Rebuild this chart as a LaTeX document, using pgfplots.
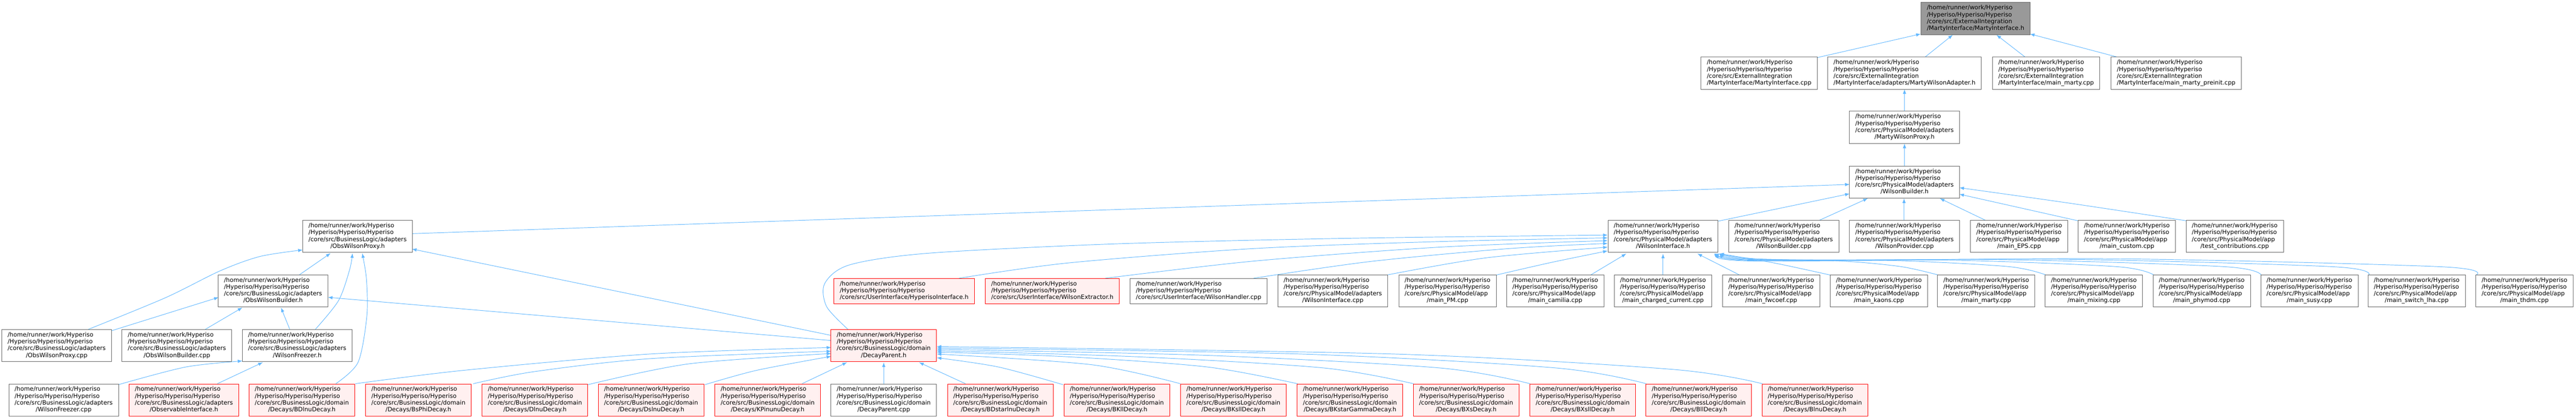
\documentclass[border=0pt]{standalone}
\usepackage{pgfplots}
\pgfplotsset{compat=1.18}
\usepackage{fontspec}
\setmainfont{DejaVu Sans}
\usetikzlibrary{arrows.meta}
\definecolor{edgeblue}{HTML}{63B8FF}
\definecolor{redfill}{HTML}{FFF0F0}
\definecolor{rootfill}{HTML}{999999}
\definecolor{boxline}{HTML}{666666}
\NewDocumentCommand{\bx}{mm}{\begin{tabular}{@{}l@{}}/home/runner/work/Hyperiso\\/Hyperiso/Hyperiso/Hyperiso\\#1\\\multicolumn{1}{@{}c@{}}{#2}\end{tabular}}
\NewDocumentCommand{\bxt}{m}{\begin{tabular}{@{}l@{}}/home/runner/work/Hyperiso\\/Hyperiso/Hyperiso/Hyperiso\\#1\end{tabular}}
\NewDocumentCommand{\BLa}{}{/core/src/BusinessLogic/adapters}
\NewDocumentCommand{\BLd}{}{/core/src/BusinessLogic/domain}
\NewDocumentCommand{\PMa}{}{/core/src/PhysicalModel/adapters}
\NewDocumentCommand{\PMp}{}{/core/src/PhysicalModel/app}
\NewDocumentCommand{\EI}{}{/core/src/ExternalIntegration}
\pgfplotsset{
  edge/.style={color=edgeblue, line width=0.8pt, smooth, mark=none, -{Latex[length=7.5pt,width=5.5pt]}},
  boxes/.style={draw=none, mark=none, point meta=explicit symbolic,
    nodes near coords={\pgfplotspointmeta}, nodes near coords align=center,
    every node near coord/.append style={anchor=center, text=black, inner xsep=9.4pt, inner ysep=3.9pt,
      font=\fontsize{9.64}{11}\selectfont, line width=0.75pt, #1}},
}
\begin{document}
\begin{tikzpicture}
\begin{axis}[name=ax, x=0.75pt, y=0.75pt, xmin=0, xmax=5547, ymin=0, ymax=901, y dir=reverse,
  hide axis, clip=false]
% ---- edges (child -> included file) ----
\addplot[edge] coordinates {(3913,124) (4136,73)};
\addplot[edge] coordinates {(4145,123) (4205,75)};
\addplot[edge] coordinates {(4361,123) (4299,75)};
\addplot[edge] coordinates {(4560,123) (4371,73)};
\addplot[edge] coordinates {(4101,239) (4101,192)};
\addplot[edge] coordinates {(4101,357) (4101,309)};
\addplot[edge] coordinates {(3700,476) (3983,417)};
\addplot[edge] coordinates {(3918,474) (4022,427)};
\addplot[edge] coordinates {(4100,474) (4100,427)};
\addplot[edge] coordinates {(4275,474) (4177,427)};
\addplot[edge] coordinates {(4478,476) (4219,418)};
\addplot[edge] coordinates {(4713,476) (4454,437) (4219,404)};
\addplot[edge] coordinates {(887,503) (3983,397)};
% row 6 -> WilsonInterface.h
\addplot[edge] coordinates {(2065,599) (2300,566) (2700,535) (3100,520) (3462,512)};
\addplot[edge] coordinates {(2380,599) (2700,562) (3100,532) (3462,518)};
\addplot[edge] coordinates {(2699,599) (2950,563) (3250,535) (3462,524)};
\addplot[edge] coordinates {(2986,592) (3200,555) (3462,532)};
\addplot[edge] coordinates {(3222,592) (3340,565) (3462,540)};
\addplot[edge] coordinates {(3425,592) (3502,546)};
\addplot[edge] coordinates {(3581,592) (3581,546)};
\addplot[edge] coordinates {(3746,592) (3655,546)};
\addplot[edge] coordinates {(3941,592) (3820,566) (3702,546)};
\addplot[edge] coordinates {(4174,592) (4094,574) (3967,562) (3780,557) (3702,546)};
\addplot[edge] coordinates {(4406,592) (4326,574) (4083,561) (3780,558) (3702,546)};
\addplot[edge] coordinates {(4638,592) (4558,574) (4199,560) (3780,559) (3702,546)};
\addplot[edge] coordinates {(4869,592) (4789,574) (4315,559) (3780,560) (3702,546)};
\addplot[edge] coordinates {(5101,592) (5021,574) (4430,558) (3780,561) (3702,546)};
\addplot[edge] coordinates {(5332,592) (5252,574) (4546,557) (3780,562) (3702,546)};
\addplot[edge] coordinates {(1826,709) (1780,660) (1776,610) (1830,570) (2000,545) (2400,525) (2900,513) (3462,506)};
% ObsWilsonProxy.h
\addplot[edge] coordinates {(190,709) (356,641) (474,583) (560,552) (652,538)};
\addplot[edge] coordinates {(644,592) (712,545)};
\addplot[edge] coordinates {(679,709) (729,647) (753,580) (759,545)};
\addplot[edge] coordinates {(723,826) (771,780) (790,680) (789,600) (780,545)};
\addplot[edge] coordinates {(1790,722) (887,536)};
% ObsWilsonBuilder.h
\addplot[edge] coordinates {(240,712) (471,640)};
\addplot[edge] coordinates {(442,709) (522,662)};
\addplot[edge] coordinates {(624,709) (605,662)};
\addplot[edge] coordinates {(1790,733) (706,640)};
% WilsonFreezer.h
\addplot[edge] coordinates {(255,828) (400,790) (522,777)};
\addplot[edge] coordinates {(468,826) (566,780)};
% DecayParent.h
\addplot[edge] coordinates {(765,826) (1000,797) (1400,762) (1790,748)};
\addplot[edge] coordinates {(1019,826) (1150,800) (1400,772) (1790,756)};
\addplot[edge] coordinates {(1266,828) (1485,783) (1790,761)};
\addplot[edge] coordinates {(1518,828) (1630,797) (1790,767)};
\addplot[edge] coordinates {(1727,826) (1824,780)};
\addplot[edge] coordinates {(1903,826) (1903,780)};
\addplot[edge] coordinates {(2079,826) (1979,780)};
\addplot[edge] coordinates {(2289,828) (2150,790) (2017,770)};
\addplot[edge] coordinates {(2542,826) (2350,785) (2017,762)};
\addplot[edge] coordinates {(2794,826) (2600,790) (2300,768) (2017,758)};
\addplot[edge] coordinates {(3044,826) (2850,792) (2450,768) (2017,755)};
\addplot[edge] coordinates {(3295,826) (3100,792) (2600,765) (2017,752)};
\addplot[edge] coordinates {(3545,826) (3350,792) (2800,762) (2017,749)};
\addplot[edge] coordinates {(3795,826) (3600,795) (3000,762) (2017,746)};
% ---- boxes ----
\addplot[boxes={draw=boxline, fill=rootfill}] coordinates {
 (4254,40) [\bx{\EI}{/MartyInterface/MartyInterface.h}]
};
\addplot[boxes={draw=boxline, fill=white}] coordinates {
 (3788,157.5) [\bx{\EI}{/MartyInterface/MartyInterface.cpp}]
 (4101,157.5) [\bx{\EI}{/MartyInterface/adapters/MartyWilsonAdapter.h}]
 (4406,157.5) [\bx{\EI}{/MartyInterface/main\_marty.cpp}]
 (4686,157.5) [\bx{\EI}{/MartyInterface/main\_marty\_preinit.cpp}]
 (4101,274) [\bx{\PMa}{/MartyWilsonProxy.h}]
 (4101,392) [\bx{\PMa}{/WilsonBuilder.h}]
 (3581,509) [\bx{\PMa}{/WilsonInterface.h}]
 (3841,509) [\bx{\PMa}{/WilsonBuilder.cpp}]
 (4101,509) [\bx{\PMa}{/WilsonProvider.cpp}]
 (4348,509) [\bx{\PMp}{/main\_EPS.cpp}]
 (4580,509) [\bx{\PMp}{/main\_custom.cpp}]
 (4812,509) [\bx{\PMp}{/test\_contributions.cpp}]
 (770,509) [\bx{\BLa}{/ObsWilsonProxy.h}]
 (2581,626.5) [\bxt{/core/src/UserInterface/WilsonHandler.cpp}]
 (2870,626) [\bx{\PMa}{/WilsonInterface.cpp}]
 (3117,626) [\bx{\PMp}{/main\_PM.cpp}]
 (3349,626) [\bx{\PMp}{/main\_camilia.cpp}]
 (3581,626) [\bx{\PMp}{/main\_charged\_current.cpp}]
 (3814,626) [\bx{\PMp}{/main\_fwcoef.cpp}]
 (4046,626) [\bx{\PMp}{/main\_kaons.cpp}]
 (4277,626) [\bx{\PMp}{/main\_marty.cpp}]
 (4509,626) [\bx{\PMp}{/main\_mixing.cpp}]
 (4741,626) [\bx{\PMp}{/main\_phymod.cpp}]
 (4973,626) [\bx{\PMp}{/main\_susy.cpp}]
 (5204,626) [\bx{\PMp}{/main\_switch\_lha.cpp}]
 (5436,626) [\bx{\PMp}{/main\_thdm.cpp}]
 (588,626) [\bx{\BLa}{/ObsWilsonBuilder.h}]
 (122,744) [\bx{\BLa}{/ObsWilsonProxy.cpp}]
 (381,744) [\bx{\BLa}{/ObsWilsonBuilder.cpp}]
 (640,744) [\bx{\BLa}{/WilsonFreezer.h}]
 (137,861) [\bx{\BLa}{/WilsonFreezer.cpp}]
 (1903,861) [\bx{\BLd}{/DecayParent.cpp}]
};
\addplot[boxes={draw=red, fill=redfill}] coordinates {
 (1947,626.5) [\bxt{/core/src/UserInterface/HyperisoInterface.h}]
 (2266,626.5) [\bxt{/core/src/UserInterface/WilsonExtractor.h}]
 (1903,744) [\bx{\BLd}{/DecayParent.h}]
 (396,861) [\bx{\BLa}{/ObservableInterface.h}]
 (650,861) [\bx{\BLd}{/Decays/BDlnuDecay.h}]
 (901,861) [\bx{\BLd}{/Decays/BsPhiDecay.h}]
 (1152,861) [\bx{\BLd}{/Decays/DlnuDecay.h}]
 (1402,861) [\bx{\BLd}{/Decays/DslnuDecay.h}]
 (1653,861) [\bx{\BLd}{/Decays/KPinunuDecay.h}]
 (2154,861) [\bx{\BLd}{/Decays/BDstarlnuDecay.h}]
 (2405,861) [\bx{\BLd}{/Decays/BKllDecay.h}]
 (2656,861) [\bx{\BLd}{/Decays/BKsllDecay.h}]
 (2907,861) [\bx{\BLd}{/Decays/BKstarGammaDecay.h}]
 (3157,861) [\bx{\BLd}{/Decays/BXsDecay.h}]
 (3408,861) [\bx{\BLd}{/Decays/BXsllDecay.h}]
 (3658,861) [\bx{\BLd}{/Decays/BllDecay.h}]
 (3908,861) [\bx{\BLd}{/Decays/BlnuDecay.h}]
};
\end{axis}
\pgfresetboundingbox
\path[use as bounding box] (ax.south west) rectangle (ax.north east);
\end{tikzpicture}
\end{document}
